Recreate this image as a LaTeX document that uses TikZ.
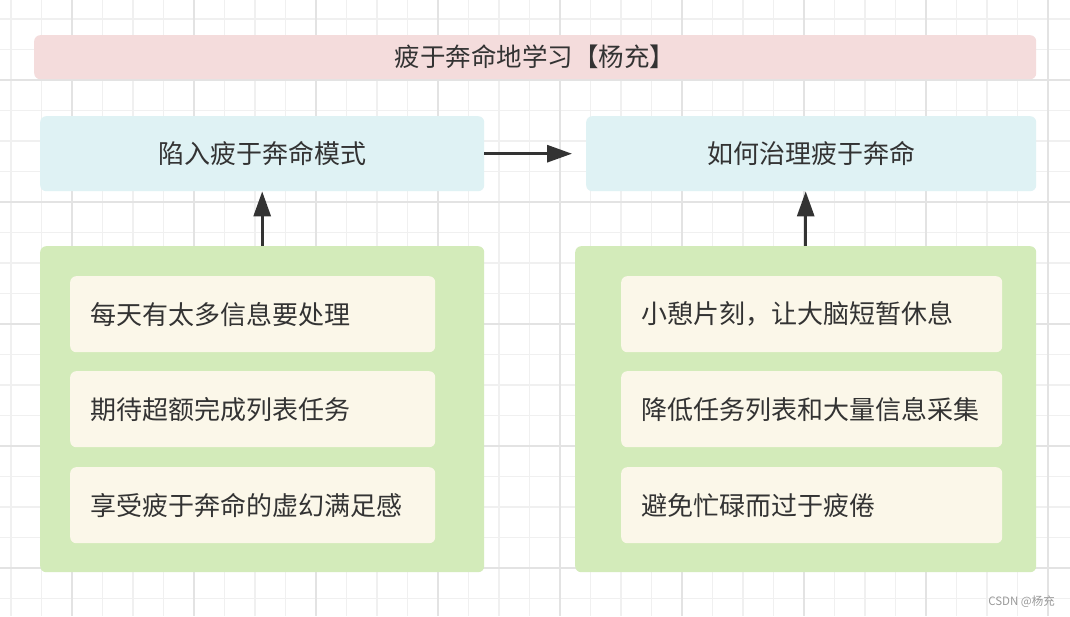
\documentclass[tikz,border=0pt]{standalone}
\usepackage{fontspec}
\setmainfont{Noto Sans CJK SC}
\usetikzlibrary{arrows.meta}
\definecolor{gridminor}{HTML}{F0F0F0}
\definecolor{gridmajor}{HTML}{E3E3E3}
\definecolor{titlepink}{HTML}{F4DCDC}
\definecolor{headblue}{HTML}{DFF2F4}
\definecolor{groupgreen}{HTML}{D3EBBA}
\definecolor{itemcream}{HTML}{FBF7E9}
\definecolor{textdark}{HTML}{333333}
\definecolor{wmgray}{HTML}{9A9A9A}
\tikzset{
  basebox/.style={draw=none, rounded corners=6pt, anchor=north west, inner sep=0pt,
    text=textdark, font=\fontsize{26}{30}\selectfont},
  titlebox/.style={basebox, fill=titlepink, font=\fontsize{25.5}{30}\selectfont},
  headbox/.style={basebox, fill=headblue},
  groupbox/.style={basebox, fill=groupgreen},
  itembox/.style={basebox, fill=itemcream, align=left, inner xsep=20pt,
    text width=#1-40pt, minimum width=#1, minimum height=76pt},
  conn/.style={draw=textdark, line width=3pt, -{Triangle[length=25pt,width=17pt]}},
  gridminorline/.style={draw=gridminor, line width=1.5pt},
  gridmajorline/.style={draw=gridmajor, line width=1.5pt},
}
\begin{document}
\begin{tikzpicture}[x=1pt,y=-1pt]
\useasboundingbox[fill=white] (0,0) rectangle (1070,616);
% background grid
\foreach \k in {-2,...,32} {
  \pgfmathsetmacro\xx{72+30.5*\k}
  \draw[gridminorline] (\xx,0) -- (\xx,616);
}
\foreach \k in {-2,...,17} {
  \pgfmathsetmacro\yy{80+30.5*\k}
  \draw[gridminorline] (0,\yy) -- (1070,\yy);
}
\foreach \k in {0,4,...,32} {
  \pgfmathsetmacro\xx{72+30.5*\k}
  \draw[gridmajorline] (\xx,0) -- (\xx,616);
}
\foreach \k in {0,4,...,16} {
  \pgfmathsetmacro\yy{80+30.5*\k}
  \draw[gridmajorline] (0,\yy) -- (1070,\yy);
}
% title
\node[titlebox, minimum width=1002pt, minimum height=44pt] (title) at (34,35) {疲于奔命地学习【杨充】};
% headers
\node[headbox, minimum width=444pt, minimum height=75pt] (hl) at (40,116) {陷入疲于奔命模式};
\node[headbox, minimum width=450pt, minimum height=75pt] (hr) at (586,116) {如何治理疲于奔命};
% groups
\node[groupbox, minimum width=444pt, minimum height=326pt] (gl) at (40,246) {};
\node[groupbox, minimum width=461pt, minimum height=326pt] (gr) at (575,246) {};
% items left
\node[itembox=365pt] (l1) at (70,276) {每天有太多信息要处理};
\node[itembox=365pt] (l2) at (70,371) {期待超额完成列表任务};
\node[itembox=365pt] (l3) at (70,467) {享受疲于奔命的虚幻满足感};
% items right
\node[itembox=381pt] (r1) at (621,276) {小憩片刻，让大脑短暂休息};
\node[itembox=381pt] (r2) at (621,371) {降低任务列表和大量信息采集};
\node[itembox=381pt] (r3) at (621,467) {避免忙碌而过于疲倦};
% connectors
\draw[conn, shorten >=14pt] (hl.east) -- (hr.west);
\draw[conn] (gl.north) -- (hl.south);
\draw[conn] (gr.north) -- (gr.north |- hr.south);
% watermark
\node[anchor=east, inner sep=0pt, text=wmgray, font=\fontsize{11.5}{13}\selectfont] (wm) at (1055,602) {CSDN @杨充};
\end{tikzpicture}
\end{document}
